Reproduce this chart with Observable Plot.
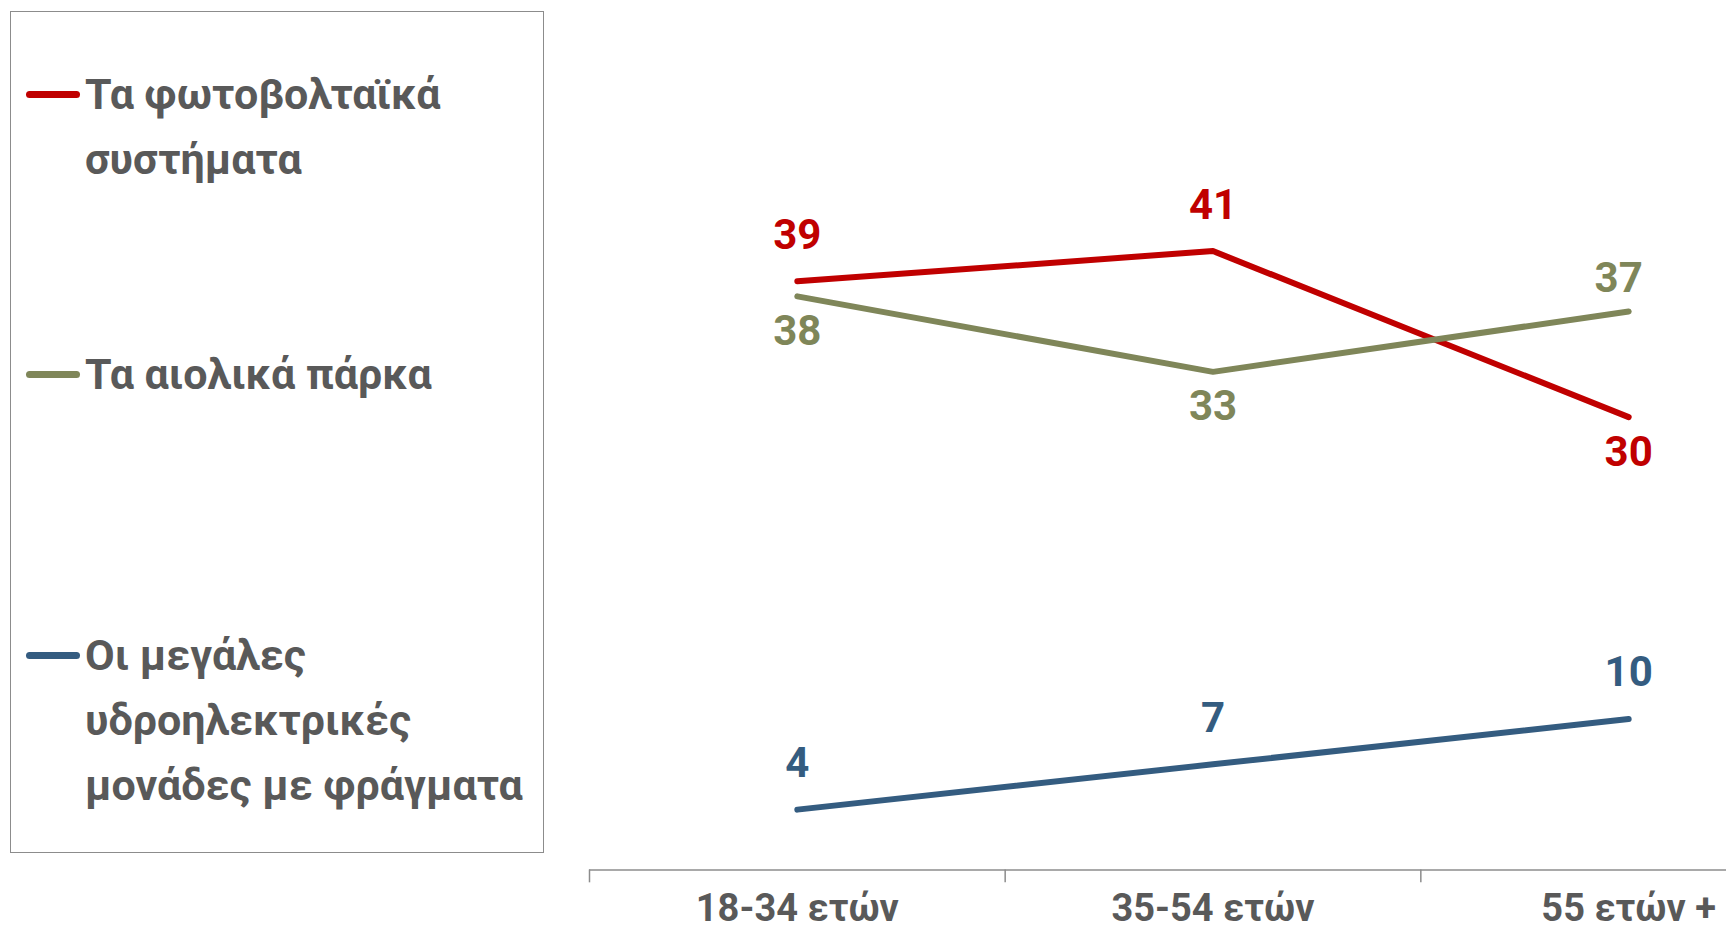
<!DOCTYPE html>
<html>
<head>
<meta charset="utf-8">
<script src="https://cdn.jsdelivr.net/npm/d3@7"></script>
<script src="https://cdn.jsdelivr.net/npm/@observablehq/plot@0.6"></script>
<style>
  html, body { margin: 0; padding: 0; background: #fff; }
  #wrap { position: relative; width: 1726px; height: 930px; overflow: hidden; font-family: Roboto, "Noto Sans", sans-serif; }
  #chart { position: absolute; left: 0; top: 0; }
  #legend { position: absolute; left: 10px; top: 11px; width: 534px; height: 842px; border: 1.5px solid #8c8c8c; box-sizing: border-box; }
  .entry { position: absolute; left: 0; width: 100%; }
  .sw { position: absolute; left: 15px; top: 29px; width: 54px; height: 7px; border-radius: 4px; }
  .lbl { position: absolute; left: 74px; font-size: 43px; font-weight: 700; line-height: 65px; color: #595959; white-space: nowrap; }
</style>
</head>
<body>
<div id="wrap">
  <div id="chart"></div>
  <div id="legend"></div>
</div>
<script>
const categories = ["18-34 ετών", "35-54 ετών", "55 ετών +"];
const seriesNames = ["Τα φωτοβολταϊκά συστήματα", "Τα αιολικά πάρκα", "Οι μεγάλες υδροηλεκτρικές μονάδες με φράγματα"];
const legendLines = [["Τα φωτοβολταϊκά", "συστήματα"], ["Τα αιολικά πάρκα"], ["Οι μεγάλες", "υδροηλεκτρικές", "μονάδες με φράγματα"]];
const solar = [39, 41, 30];
const wind = [38, 33, 37];
const hydro = [4, 7, 10];
const colors = ["#C00000", "#7F8659", "#345C80"];

const seriesValues = [solar, wind, hydro];
const rows = [];
seriesValues.forEach((vals, s) => vals.forEach((v, i) => rows.push({series: seriesNames[s], s, i, cat: categories[i], value: v})));
// label goes below a point if another series lies just above it
rows.forEach(r => {
  r.below = rows.some(o => o.i === r.i && o.s !== r.s && o.value > r.value && o.value - r.value < 15);
  // a label placed above a point while a crossing series lies just below it sits closer to its line
  r.near = !r.below && rows.some(o => o.i === r.i && o.s !== r.s && o.value < r.value && r.value - o.value < 15) && r.i === categories.length - 1;
});

const chart = Plot.plot({
  width: 1726,
  height: 930,
  marginLeft: 0, marginRight: 0, marginTop: 0, marginBottom: 60,
  x: {type: "linear", domain: [0, 3], range: [589, 1836], axis: null},
  y: {domain: [0, 57.6], range: [869.5, 0], axis: null},
  color: {domain: seriesNames, range: colors},
  style: {fontFamily: "Roboto, 'Noto Sans', sans-serif", background: "transparent", overflow: "visible"},
  marks: [
    Plot.ruleY([0], {x1: 0, x2: 3, stroke: "#8c8c8c", strokeWidth: 1.5}),
    Plot.ruleX([0, 1, 2], {x: d => d, y1: 0, y2: -0.85, stroke: "#8c8c8c", strokeWidth: 1.5}),
    Plot.text(categories, {x: (d, i) => i + 0.5, y: 0, dy: 39, text: d => d, fill: "#595959", fontSize: 38, fontWeight: 700, lineAnchor: "middle"}),
    Plot.line(rows, {x: d => d.i + 0.5, y: "value", z: "series", stroke: "series", strokeWidth: 6, strokeLinecap: "round", strokeLinejoin: "round"}),
    Plot.text(rows.filter(d => !d.below && !d.near), {x: d => d.i + 0.5, y: "value", text: d => String(d.value), fill: "series", fontSize: 42, fontWeight: 700, dy: -46, lineAnchor: "middle"}),
    Plot.text(rows.filter(d => d.near), {x: d => d.i + 0.5, y: "value", text: d => String(d.value), fill: "series", fontSize: 42, fontWeight: 700, dy: -33, dx: -10, lineAnchor: "middle"}),
    Plot.text(rows.filter(d => d.below), {x: d => d.i + 0.5, y: "value", text: d => String(d.value), fill: "series", fontSize: 42, fontWeight: 700, dy: 35, lineAnchor: "middle"})
  ]
});
document.getElementById("chart").appendChild(chart);

const legend = document.getElementById("legend");
const entryTops = [50, 330, 611];
legendLines.forEach((lines, k) => {
  const e = document.createElement("div");
  e.className = "entry";
  e.style.top = entryTops[k] + "px";
  const sw = document.createElement("div");
  sw.className = "sw";
  sw.style.background = colors[k];
  e.appendChild(sw);
  const t = document.createElement("div");
  t.className = "lbl";
  t.innerHTML = lines.join("<br>");
  e.appendChild(t);
  legend.appendChild(e);
});
</script>
</body>
</html>
